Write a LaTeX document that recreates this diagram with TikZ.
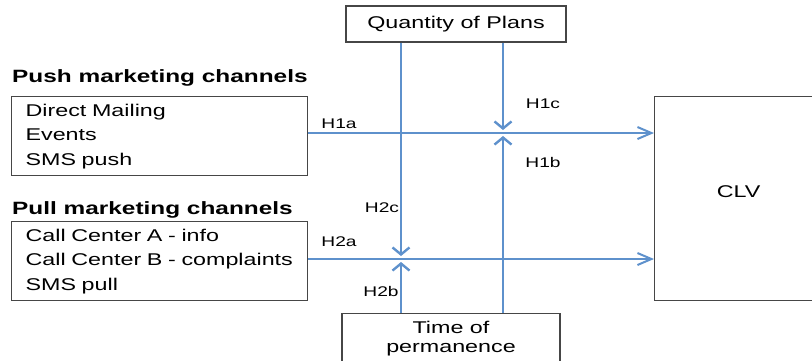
\documentclass[tikz,border=0pt]{standalone}
\usepackage{fontspec}
\setmainfont[FakeStretch=1.37]{Liberation Sans}
\usetikzlibrary{arrows.meta}
\definecolor{linkblue}{RGB}{94,145,204}
\definecolor{boxgray}{RGB}{70,70,70}
\tikzset{
  box/.style={draw=boxgray, line width=1.2pt, inner sep=0pt},
  link/.style={draw=linkblue, line width=1.3pt},
  meet/.style={link, -{Straight Barb[length=7pt,width=17pt,line width=2.4pt]}},
  into/.style={link, -{Straight Barb[length=14pt,width=12pt,line width=2pt]}},
  main/.style={font=\fontsize{17}{24.5}\selectfont},
  list/.style={box, main, anchor=north west, text width=268, inner xsep=14, minimum height=79, align=left},
  head/.style={font=\fontsize{17.8}{20}\selectfont\bfseries, inner sep=0pt, anchor=west},
  hyp/.style={font=\fontsize{14}{16}\selectfont},
}
\begin{document}
\begin{tikzpicture}[x=1pt,y=-1pt]
\useasboundingbox (0,0) rectangle (812,360);

% boxes
\node[box, main, minimum width=220, minimum height=36] (qty) at (456,24) {Quantity of Plans};

\node[head] (pushhead) at (12,78) {Push marketing channels};
\node[list] (push) at (11,96) {Direct Mailing\\Events\\SMS push};

\node[head] (pullhead) at (12,210) {Pull marketing channels};
\node[list] (pull) at (11,221) {Call Center A - info\\Call Center B - complaints\\SMS pull};

\node[box, main, anchor=north west, minimum width=168, minimum height=204, text depth=14] (clv) at (654,96) {CLV};

\node[box, anchor=north, minimum width=218, inner ysep=8, text depth=30, align=center, font=\fontsize{17}{19}\selectfont] (time) at (451,313) {Time of\\permanence};

% meeting points
\coordinate (m1) at (503,133);
\coordinate (m2) at (401,259);

% direct effects
\draw[into] (push.east |- m1) -- (clv.west |- m1);
\draw[into] (pull.east |- m2) -- (clv.west |- m2);

% moderators
\draw[meet] (qty.south -| m1) -- ([yshift=3pt]m1);
\draw[meet] (time.north -| m1) -- ([yshift=-3pt]m1);
\draw[meet] (qty.south -| m2) -- ([yshift=3pt]m2);
\draw[meet] (time.north -| m2) -- ([yshift=-3pt]m2);

\node[hyp] (h1a) at (339,124) {H1a};
\node[hyp] (h1c) at (543,104) {H1c};
\node[hyp] (h1b) at (543,162) {H1b};
\node[hyp] (h2c) at (382,208) {H2c};
\node[hyp] (h2a) at (339,242) {H2a};
\node[hyp] (h2b) at (381,291) {H2b};

\end{tikzpicture}
\end{document}
